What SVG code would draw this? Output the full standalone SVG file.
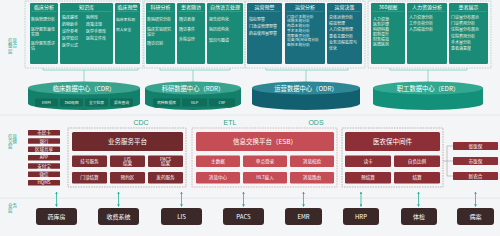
<svg xmlns="http://www.w3.org/2000/svg" width="500" height="236" viewBox="0 0 500 236">
<style>
text{font-family:"Noto Sans CJK SC","Noto Sans",sans-serif;}
.bg{fill:#f3f5f6;}
.sep{stroke:#dfe4e6;stroke-width:0.8;}
.dash{fill:none;stroke:#a9c9c6;stroke-width:0.7;stroke-dasharray:1.6 1;}
.dashm{fill:none;stroke:#a99c9d;stroke-width:0.7;stroke-dasharray:1.6 1;}
.dashp{fill:none;stroke:#d99ca2;stroke-width:0.7;stroke-dasharray:1.6 1;}
.card{fill:#1a8b76;}
.cardo{fill:#1a6e7d;}
.ct{fill:#fff;font-size:5px;text-anchor:middle;}
.ul{stroke:#ffffff;stroke-opacity:0.35;stroke-width:0.4;}
.it{fill:#e8f5f2;font-size:4px;}
.its{fill:#e8f5f2;font-size:3.8px;}
.lay{fill:#2a9d8a;font-size:4.5px;}
.con{fill:none;stroke:#7ccfc0;stroke-width:0.8;}
.cyltop{fill:#3aa38d;}
.cylbody{fill:#13806b;}
.cyltopo{fill:#2e8795;}
.cylbodyo{fill:#12606f;}
.cyltope{fill:#31a88f;}
.cylbodye{fill:#139079;}
.cl{fill:#fff;font-size:6.3px;text-anchor:middle;}
.cb{fill:#0f6d5a;}
.cbt{fill:#e8f5f2;font-size:3.8px;text-anchor:middle;}
.tag{fill:#2aa38c;font-size:7px;text-anchor:middle;font-family:"Liberation Sans",sans-serif;}
.sm{fill:#7a2b2f;}
.smt{fill:#fff;font-size:4.5px;text-anchor:middle;}
.hA{fill:#6e2a2d;}
.bA{fill:#7b2e31;}
.hB{fill:#c44d56;}
.hC{fill:#8c2f36;}
.ht{fill:#fff;font-size:6.5px;text-anchor:middle;}
.bt{fill:#fff;font-size:4.6px;text-anchor:middle;}
.br{fill:none;stroke:#a89a9a;stroke-width:0.6;}
.biz{fill:#3b2828;}
.bzt{fill:#fff;font-size:6px;text-anchor:middle;}
.arr{stroke:#2ab09a;stroke-width:0.8;fill:none;}
</style>
<defs>
<marker id="ah" viewBox="0 0 6 6" refX="5" refY="3" markerWidth="3.5" markerHeight="3.5" orient="auto-start-reverse">
<path d="M0,0 L6,3 L0,6 Z" fill="#2ab09a"/>
</marker>
</defs>
<rect class="bg" x="0" y="0" width="500" height="236"/>
<line class="sep" x1="0" y1="115" x2="500" y2="115"/>
<line class="sep" x1="0" y1="198" x2="500" y2="198"/>

<g id="layer-labels">
<text class="lay" x="8" y="42">信息</text>
<text class="lay" x="8" y="47.3">整合</text>
<text class="lay" x="8" y="52.6">层</text>
<text class="lay" x="8" y="137.5">信息</text>
<text class="lay" x="8" y="142.8">交换</text>
<text class="lay" x="8" y="148.1">层</text>
<text class="lay" x="8" y="207">业务</text>
<text class="lay" x="8" y="212.3">层</text>
</g>

<g id="connectors">
<path class="con" d="M43,68 V70 H138 V68 M84,70 V82"/>
<path class="con" d="M160,68 V70 H230 V68 M193,70 V82"/>
<path class="con" d="M266,68 V70 H348 V68 M306,70 V82"/>
<path class="con" d="M390,68 V70 H467 V68 M428,70 V82"/>
<path class="br" d="M443,161 H447 M447,146 V176 M447,146 H453 M447,161 H453 M447,176 H453"/>
<line class="arr" x1="56.5" y1="192" x2="56.5" y2="206.5" marker-start="url(#ah)" marker-end="url(#ah)"/>
<line class="arr" x1="118.5" y1="192" x2="118.5" y2="206.5" marker-start="url(#ah)" marker-end="url(#ah)"/>
<line class="arr" x1="181.5" y1="192" x2="181.5" y2="206.5" marker-start="url(#ah)" marker-end="url(#ah)"/>
<line class="arr" x1="243.5" y1="192" x2="243.5" y2="206.5" marker-start="url(#ah)" marker-end="url(#ah)"/>
<line class="arr" x1="303.5" y1="192" x2="303.5" y2="206.5" marker-start="url(#ah)" marker-end="url(#ah)"/>
<line class="arr" x1="361" y1="192" x2="361" y2="206.5" marker-start="url(#ah)" marker-end="url(#ah)"/>
<line class="arr" x1="418.5" y1="192" x2="418.5" y2="206.5" marker-start="url(#ah)" marker-end="url(#ah)"/>
<line class="arr" x1="475.5" y1="192" x2="475.5" y2="206.5" marker-start="url(#ah)" marker-end="url(#ah)"/>
</g>

<g id="group-cdr-apps">
<rect class="dash" x="25" y="1" width="118" height="67"/>
<rect class="card" x="30" y="3" width="28" height="61" rx="1.2"/>
<text class="ct" x="44" y="9">临床分析</text>
<line class="ul" x1="31.5" y1="11.5" x2="56.5" y2="11.5"/>
<text class="it" x="31" y="20.5">疾病管理分析</text>
<text class="it" x="31" y="30.5">医疗服务最佳</text>
<text class="it" x="31" y="35.5">实践</text>
<text class="it" x="31" y="44.5">医疗服务质评</text>
<text class="it" x="31" y="49.5">估</text>
<rect class="card" x="60" y="3" width="53" height="61" rx="1.2"/>
<text class="ct" x="86.5" y="9">知识库</text>
<line class="ul" x1="61.5" y1="11.5" x2="111.5" y2="11.5"/>
<text class="it" x="62" y="18.5">临床路径</text>
<text class="it" x="62" y="25.5">药物助手</text>
<text class="it" x="62" y="33">诊疗参考</text>
<text class="it" x="62" y="39.5">医学知识</text>
<text class="it" x="62" y="46.5">医学公式</text>
<text class="it" x="86" y="18.5">病例库</text>
<text class="it" x="86" y="25.5">政策法规</text>
<text class="it" x="86" y="33">医学手册库</text>
<text class="it" x="86" y="39.5">医院文件库</text>
<rect class="card" x="115" y="3" width="25" height="61" rx="1.2"/>
<text class="ct" x="127.5" y="9">临床预警</text>
<line class="ul" x1="116.5" y1="11.5" x2="138.5" y2="11.5"/>
<text class="its" x="116" y="20.5">临床率检测</text>
<text class="its" x="116" y="30.5">病人安全</text>
</g>

<g id="group-rdr-apps">
<rect class="dash" x="144" y="1" width="101" height="67"/>
<rect class="card" x="146" y="3" width="29" height="61" rx="1.2"/>
<text class="ct" x="160.5" y="9">科研分析</text>
<line class="ul" x1="147.5" y1="11.5" x2="173.5" y2="11.5"/>
<text class="it" x="147" y="20.5">疾病研究分析</text>
<text class="it" x="147" y="30.5">临床实验研究</text>
<text class="it" x="147" y="35.5">设计</text>
<text class="it" x="147" y="44.5">随访识别</text>
<rect class="card" x="177" y="3" width="28" height="61" rx="1.2"/>
<text class="ct" x="191" y="9">患者随访</text>
<line class="ul" x1="178.5" y1="11.5" x2="203.5" y2="11.5"/>
<text class="it" x="179" y="20.5">随访表单</text>
<text class="it" x="179" y="30.5">随访事件</text>
<text class="it" x="179" y="40.5">外院诊疗</text>
<rect class="card" x="207" y="3" width="36" height="61" rx="1.2"/>
<text class="ct" x="225" y="9">自然语言处理</text>
<line class="ul" x1="208.5" y1="11.5" x2="241.5" y2="11.5"/>
<text class="it" x="209" y="20.5">报告结构化</text>
<text class="it" x="209" y="31">病历结构化</text>
<text class="it" x="209" y="41.5">知识与图谱</text>
</g>

<g id="group-odr-apps">
<rect class="dash" x="245" y="1" width="120" height="67"/>
<rect class="cardo" x="247" y="3" width="35" height="61" rx="1.2"/>
<text class="ct" x="264.5" y="9">运营预警</text>
<line class="ul" x1="248.5" y1="11.5" x2="280.5" y2="11.5"/>
<text class="it" x="249" y="20.5">指标预警</text>
<text class="it" x="249" y="27.5">门急诊管理预警</text>
<text class="it" x="249" y="34.5">药品使用量预警</text>
<rect class="cardo" x="285" y="3" width="40" height="61" rx="1.2"/>
<text class="ct" x="305" y="9">运营分析</text>
<line class="ul" x1="286.5" y1="11.5" x2="323.5" y2="11.5"/>
<text class="its" x="287" y="17.5">门急诊主题分析</text>
<text class="its" x="287" y="22.3">住院主题分析</text>
<text class="its" x="287" y="27">药品主题分析</text>
<text class="its" x="287" y="31.8">手术主题分析</text>
<text class="its" x="287" y="36.5">病案首页分析</text>
<text class="its" x="287" y="41.3">设备/耗材业务分析</text>
<text class="its" x="287" y="46">医技主题分析</text>
<rect class="cardo" x="327" y="3" width="35" height="61" rx="1.2"/>
<text class="ct" x="344.5" y="9">运营决策</text>
<line class="ul" x1="328.5" y1="11.5" x2="360.5" y2="11.5"/>
<text class="it" x="329" y="18.5">总体运营分析</text>
<text class="it" x="329" y="24.5">绩效管理</text>
<text class="it" x="329" y="31">人力资源管理</text>
<text class="it" x="329" y="37.5">患者主题分析</text>
<text class="it" x="329" y="44">业务流程监控与</text>
<text class="it" x="329" y="50">优化</text>
</g>

<g id="group-edr-apps">
<rect class="dash" x="368" y="1" width="123" height="67"/>
<rect class="card" x="371" y="3" width="34" height="61" rx="1.2"/>
<text class="ct" x="388" y="9">360视图</text>
<line class="ul" x1="372.5" y1="11.5" x2="403.5" y2="11.5"/>
<text class="it" x="373" y="20.5">人力资源</text>
<text class="it" x="373" y="25.5">医务护理</text>
<text class="it" x="373" y="30.5">科研科教</text>
<text class="it" x="373" y="35.5">职称晋升</text>
<text class="it" x="373" y="40.5">财务绩效</text>
<text class="it" x="373" y="45.5">医德医风</text>
<rect class="card" x="407" y="3" width="40" height="61" rx="1.2"/>
<text class="ct" x="427" y="9">人力资源分析</text>
<line class="ul" x1="408.5" y1="11.5" x2="445.5" y2="11.5"/>
<text class="it" x="409" y="18.5">人力资源分析</text>
<text class="it" x="409" y="24.5">工作负荷分析</text>
<text class="it" x="409" y="31">人员绩效分析</text>
<rect class="card" x="449" y="3" width="39" height="61" rx="1.2"/>
<text class="ct" x="468.5" y="9">患者展示</text>
<line class="ul" x1="450.5" y1="11.5" x2="486.5" y2="11.5"/>
<text class="it" x="451" y="18.5">门诊量分布展示</text>
<text class="it" x="451" y="24.5">门诊费用分析</text>
<text class="it" x="451" y="31">住院量分布展示</text>
<text class="it" x="451" y="37.5">住院费用分析</text>
<text class="it" x="451" y="44">手术量分析</text>
<text class="it" x="451" y="50">患者满意度</text>
</g>

<g id="cdr">
<path class="cylbody" d="M28,88 V103.5 A56,6.5 0 0 0 140,103.5 V88 Z"/>
<ellipse class="cyltop" cx="84" cy="88" rx="56" ry="6.5"/>
<text class="cl" x="84" y="90.5">临床数据中心（CDR）</text>
<rect class="cb" x="35" y="98.5" width="23" height="8" rx="1"/>
<text class="cbt" x="46.5" y="103.8">EMPI</text>
<rect class="cb" x="60" y="98.5" width="23" height="8" rx="1"/>
<text class="cbt" x="71.5" y="103.8">360视图</text>
<rect class="cb" x="85" y="98.5" width="23" height="8" rx="1"/>
<text class="cbt" x="96.5" y="103.8">全文检索</text>
<rect class="cb" x="110" y="98.5" width="23" height="8" rx="1"/>
<text class="cbt" x="121.5" y="103.8">报告查询</text>
</g>

<g id="rdr">
<path class="cylbody" d="M145,88 V103.5 A48,6.5 0 0 0 241,103.5 V88 Z"/>
<ellipse class="cyltop" cx="193" cy="88" rx="48" ry="6.5"/>
<text class="cl" x="193" y="90.5">科研数据中心（RDR）</text>
<rect class="cb" x="153" y="98.5" width="27" height="8" rx="1"/>
<text class="cbt" x="166.5" y="103.8">病种数据库</text>
<rect class="cb" x="182" y="98.5" width="25" height="8" rx="1"/>
<text class="cbt" x="194.5" y="103.8">NLP</text>
<rect class="cb" x="209" y="98.5" width="26" height="8" rx="1"/>
<text class="cbt" x="222" y="103.8">CRF</text>
</g>

<g id="odr">
<path class="cylbodyo" d="M252,88 V103.5 A54,6.5 0 0 0 360,103.5 V88 Z"/>
<ellipse class="cyltopo" cx="306" cy="88" rx="54" ry="6.5"/>
<text class="cl" x="306" y="90.5">运营数据中心（ODR）</text>
</g>

<g id="edr">
<path class="cylbodye" d="M373,88 V103.5 A55,6.5 0 0 0 483,103.5 V88 Z"/>
<ellipse class="cyltope" cx="428" cy="88" rx="55" ry="6.5"/>
<text class="cl" x="428" y="90.5">职工数据中心（EDR）</text>
</g>

<g id="etl-labels">
<text class="tag" x="141" y="124.5">CDC</text>
<text class="tag" x="230" y="124.5">ETL</text>
<text class="tag" x="316" y="124.5">ODS</text>
</g>

<g id="channels">
<rect class="sm" x="28" y="130" width="32" height="5.5" rx="0.6"/><text class="smt" x="44" y="134.3">市民卡</text>
<rect class="sm" x="28" y="138.3" width="32" height="5.5" rx="0.6"/><text class="smt" x="44" y="142.6">银行</text>
<rect class="sm" x="28" y="146.6" width="32" height="5.5" rx="0.6"/><text class="smt" x="44" y="150.9">区域共享</text>
<rect class="sm" x="28" y="155" width="32" height="5.5" rx="0.6"/><text class="smt" x="44" y="159.3">APP</text>
<rect class="sm" x="28" y="163.3" width="32" height="5.5" rx="0.6"/><text class="smt" x="44" y="167.6">支付宝</text>
<rect class="sm" x="28" y="171.6" width="32" height="5.5" rx="0.6"/><text class="smt" x="44" y="175.9">微信</text>
<rect class="sm" x="28" y="180" width="32" height="5.5" rx="0.6"/><text class="smt" x="44" y="184.3">HQMS</text>
</g>

<g id="biz-service-platform">
<rect class="dashm" x="68" y="128" width="118" height="59"/>
<rect class="hA" x="72" y="132" width="111" height="19" rx="1.5"/>
<text class="ht" x="127.5" y="144.2">业务服务平台</text>
<rect class="bA" x="72" y="155.5" width="35" height="11.5" rx="1.2"/><text class="bt" x="89.5" y="162.8">挂号服务</text>
<rect class="bA" x="110" y="155.5" width="35" height="11.5" rx="1.2"/><text class="bt" x="127.5" y="160.5">LIS</text><text class="bt" x="127.5" y="165.3">结果</text>
<rect class="bA" x="148" y="155.5" width="35" height="11.5" rx="1.2"/><text class="bt" x="165.5" y="160.5">PACS</text><text class="bt" x="165.5" y="165.3">结果</text>
<rect class="bA" x="72" y="172" width="35" height="11.5" rx="1.2"/><text class="bt" x="89.5" y="179.3">门诊结算</text>
<rect class="bA" x="110" y="172" width="35" height="11.5" rx="1.2"/><text class="bt" x="127.5" y="179.3">预约区</text>
<rect class="bA" x="148" y="172" width="35" height="11.5" rx="1.2"/><text class="bt" x="165.5" y="179.3">发药服务</text>
</g>

<g id="esb">
<rect class="dashp" x="192" y="128" width="145" height="59"/>
<rect class="hB" x="196" y="132" width="138" height="19" rx="1.5"/>
<text class="ht" x="265" y="144.2">信息交换平台（ESB）</text>
<rect class="hB" x="196" y="155.5" width="44" height="11.5" rx="1.2"/><text class="bt" x="218" y="162.8">主数据</text>
<rect class="hB" x="243" y="155.5" width="44" height="11.5" rx="1.2"/><text class="bt" x="265" y="162.8">单点登录</text>
<rect class="hB" x="290" y="155.5" width="44" height="11.5" rx="1.2"/><text class="bt" x="312" y="162.8">消息校验</text>
<rect class="hB" x="196" y="172" width="44" height="11.5" rx="1.2"/><text class="bt" x="218" y="179.3">消息中心</text>
<rect class="hB" x="243" y="172" width="44" height="11.5" rx="1.2"/><text class="bt" x="265" y="179.3">HL7接入</text>
<rect class="hB" x="290" y="172" width="44" height="11.5" rx="1.2"/><text class="bt" x="312" y="179.3">消息路由</text>
</g>

<g id="insurance-middleware">
<rect class="dashm" x="342" y="128" width="101" height="59"/>
<rect class="hC" x="345" y="132" width="95" height="19" rx="1.5"/>
<text class="ht" x="392.5" y="144.2">医农保中间件</text>
<rect class="hC" x="345" y="155.5" width="46" height="11.5" rx="1.2"/><text class="bt" x="368" y="162.8">读卡</text>
<rect class="hC" x="394" y="155.5" width="46" height="11.5" rx="1.2"/><text class="bt" x="417" y="162.8">自负比例</text>
<rect class="hC" x="345" y="172" width="46" height="11.5" rx="1.2"/><text class="bt" x="368" y="179.3">预结算</text>
<rect class="hC" x="394" y="172" width="46" height="11.5" rx="1.2"/><text class="bt" x="417" y="179.3">结算</text>
</g>

<g id="insurers">
<rect class="hC" x="453" y="142" width="45" height="8" rx="0.8"/><text class="bt" x="475.5" y="147.6">省医保</text>
<rect class="hC" x="453" y="157" width="45" height="8" rx="0.8"/><text class="bt" x="475.5" y="162.6">市医保</text>
<rect class="hC" x="453" y="172" width="45" height="8" rx="0.8"/><text class="bt" x="475.5" y="177.6">新农合</text>
</g>

<g id="business-systems">
<rect class="biz" x="36" y="208" width="41" height="17" rx="3"/><text class="bzt" x="56.5" y="218.6">药库房</text>
<rect class="biz" x="98" y="208" width="41" height="17" rx="3"/><text class="bzt" x="118.5" y="218.6">收费系统</text>
<rect class="biz" x="161" y="208" width="41" height="17" rx="3"/><text class="bzt" x="181.5" y="218.6">LIS</text>
<rect class="biz" x="223" y="208" width="41" height="17" rx="3"/><text class="bzt" x="243.5" y="218.6">PACS</text>
<rect class="biz" x="285" y="208" width="37" height="17" rx="3"/><text class="bzt" x="303.5" y="218.6">EMR</text>
<rect class="biz" x="343" y="208" width="36" height="17" rx="3"/><text class="bzt" x="361" y="218.6">HRP</text>
<rect class="biz" x="401" y="208" width="36" height="17" rx="3"/><text class="bzt" x="419" y="218.6">体检</text>
<rect class="biz" x="457" y="208" width="37" height="17" rx="3"/><text class="bzt" x="475.5" y="218.6">病案</text>
</g>
</svg>
